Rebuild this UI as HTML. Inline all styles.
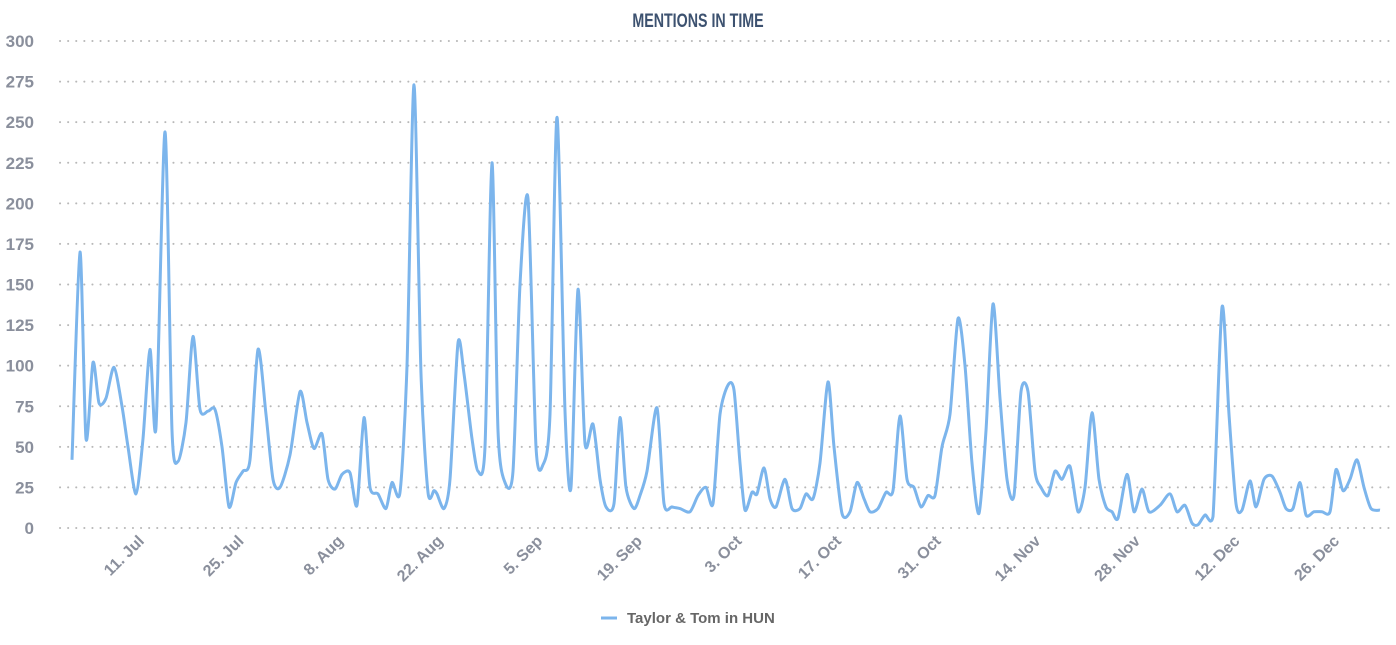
<!DOCTYPE html>
<html><head><meta charset="utf-8"><style>
html,body{margin:0;padding:0;background:#fff;}
svg text{font-family:"Liberation Sans",sans-serif;}
</style></head><body>
<svg id="s" width="1396" height="640" xmlns="http://www.w3.org/2000/svg">
<text x="698" y="27" text-anchor="middle" font-size="19" font-weight="bold" fill="#3d5270" style="font-family:'Liberation Sans Narrow','Liberation Sans',sans-serif" transform="translate(698 0) scale(0.75 1) translate(-698 0)">MENTIONS IN TIME</text>
<g id="grid" stroke="#b8b8b8" stroke-width="2" stroke-dasharray="0.1,8" stroke-linecap="round"></g>
<g id="yl" font-size="17" font-weight="bold" fill="#8a8f9c" text-anchor="end"></g>
<g id="xl" font-size="16" font-weight="bold" fill="#8a8f9c" text-anchor="end"></g>
<path id="ln" fill="none" stroke="#7cb5ec" stroke-width="3" stroke-linejoin="round"/>
<line x1="601" y1="618" x2="617" y2="618" stroke="#7cb5ec" stroke-width="3"/>
<text x="627" y="623" font-size="15" font-weight="bold" fill="#666">Taylor &amp; Tom in HUN</text>
</svg>
<script>
var y0=528,y300=41;function Y(v){return y0-(y0-y300)*v/300;}
var g=document.getElementById('grid'),yl=document.getElementById('yl'),xl=document.getElementById('xl');
var ns='http://www.w3.org/2000/svg';
for(var v=0;v<=300;v+=25){var l=document.createElementNS(ns,'line');l.setAttribute('x1',60);l.setAttribute('x2',1390);l.setAttribute('y1',Y(v));l.setAttribute('y2',Y(v));g.appendChild(l);
var t=document.createElementNS(ns,'text');t.setAttribute('x',34);t.setAttribute('y',Y(v)+6);t.textContent=v;yl.appendChild(t);}
var labs=['11. Jul','25. Jul','8. Aug','22. Aug','5. Sep','19. Sep','3. Oct','17. Oct','31. Oct','14. Nov','28. Nov','12. Dec','26. Dec'];
for(var i=0;i<labs.length;i++){var x=145+i*99.6;var t=document.createElementNS(ns,'text');t.setAttribute('transform','translate('+x+' 542) rotate(-45)');t.textContent=labs[i];xl.appendChild(t);}
var d=[72,42,80,170,86,55,93,102,99,77,106,80,114,99,122,75,128,50,136,21,143,55,150,110,156,62,165,244,172,60,178,41,186,65,193,118,200,73,208,72,215,73,222,50,229,13,236,28,243,35,250,42,258,110,266,70,273,30,280,25,290,45,300,84,307,65,314,49,322,58,328,30,335,24,342,33,350,34,357,14,364,68,370,25,378,21,386,12,392,28,400,22,407,100,414,273,421,95,428,22,434,23,437,21,444,12,450,30,458,114,464,95,472,55,478,35,485,50,492,225,498,60,505,28,513,35,520,150,528,203,536,50,543,39,550,70,557,253,565,72,571,25,578,147,585,52,593,64,600,30,606,13,614,15,620,68,626,25,634,12,640,20,647,35,657,74,664,15,672,13,680,12,690,10,698,20,706,25,713,15,720,70,728,88,734,85,740,40,745,11,752,22,757,21,764,37,770,18,776,13,785,30,792,12,800,12,806,21,813,18,820,40,828,90,834,50,842,9,850,10,857,28,864,18,870,10,878,12,886,22,893,23,900,69,907,30,914,25,921,13,928,20,935,20,942,50,950,70,958,129,965,100,972,40,979,9,986,60,993,138,1000,80,1007,30,1014,20,1021,84,1028,84,1035,35,1041,25,1048,20,1055,35,1062,30,1070,38,1078,10,1085,25,1092,71,1099,30,1106,13,1112,10,1118,6,1127,33,1134,10,1142,24,1149,10,1160,14,1170,21,1177,10,1185,14,1192,3,1198,2,1205,8,1213,7,1222,136,1229,70,1236,15,1242,11,1250,29,1256,13,1264,30,1272,32,1280,22,1286,12,1293,12,1300,28,1306,8,1314,10,1322,10,1330,10,1336,36,1343,23,1350,30,1357,42,1364,25,1371,12,1380,11];
var P=[];for(var i=0;i<d.length;i+=2)P.push([d[i],Y(d[i+1])]);
var s='M'+P[0][0]+','+P[0][1];
for(var i=0;i<P.length-1;i++){var p0=P[Math.max(0,i-1)],p1=P[i],p2=P[i+1],p3=P[Math.min(P.length-1,i+2)];
var k=0.13;var c1y=Math.min(y0,p1[1]+(p2[1]-p0[1])*k),c2y=Math.min(y0,p2[1]-(p3[1]-p1[1])*k);
s+=' C'+(p1[0]+(p2[0]-p0[0])*k)+','+c1y+' '+(p2[0]-(p3[0]-p1[0])*k)+','+c2y+' '+p2[0]+','+p2[1];}
document.getElementById('ln').setAttribute('d',s);
</script>
</body></html>
